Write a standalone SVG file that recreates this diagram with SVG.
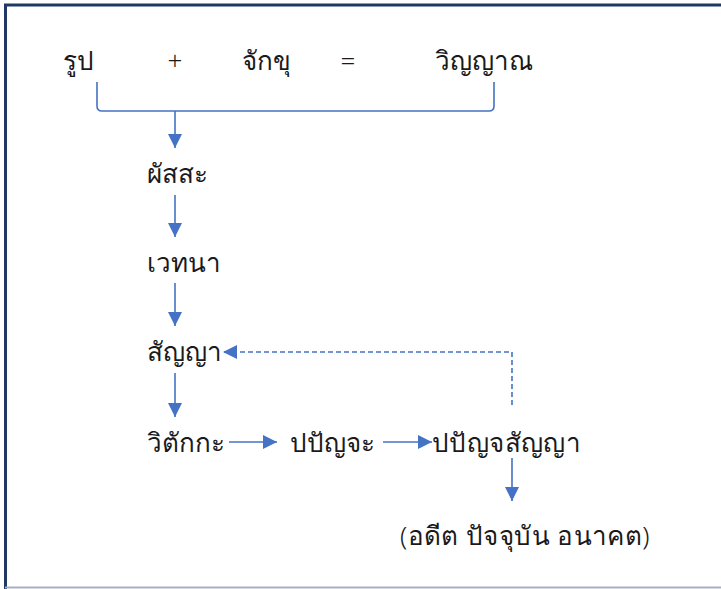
<svg xmlns="http://www.w3.org/2000/svg" width="721" height="589" viewBox="0 0 721 589">
<defs>
<style>
text{font-family:"Noto Sans","DejaVu Sans","Liberation Sans",sans-serif;font-size:26px;font-weight:300;fill:#1a1a1a}
.c{stroke:#4472C4;stroke-width:1.6;fill:none}
.d{stroke:#4472C4;stroke-width:1.6;fill:none;stroke-dasharray:5 3}
</style>
<marker id="ah2" viewBox="0 0 10 10" refX="10" refY="5" markerWidth="14" markerHeight="14" markerUnits="userSpaceOnUse" orient="auto">
<path d="M0,0 L10,5 L0,10 z" fill="#4472C4"/>
</marker>
</defs>
<rect width="721" height="589" fill="#fff"/>
<path d="M5.5,589 V5 H721" stroke="#1F3864" stroke-width="3" fill="none"/>
<line x1="5" y1="587.5" x2="721" y2="587.5" stroke="#A6B0C8" stroke-width="2"/>
<g id="n-rup"><text x="63" y="70">รูป</text></g>
<g id="n-plus"><text x="175" y="70" text-anchor="middle">+</text></g>
<g id="n-chakkhu"><text x="242" y="70">จักขุ</text></g>
<g id="n-eq"><text x="348" y="70" text-anchor="middle">=</text></g>
<g id="n-vinyana"><text x="435" y="70">วิญญาณ</text></g>
<g id="n-phassa"><text x="147" y="183">ผัสสะ</text></g>
<g id="n-vedana"><text x="147" y="272">เวทนา</text></g>
<g id="n-sanya"><text x="147" y="361">สัญญา</text></g>
<g id="n-vitakka"><text x="147" y="452">วิตักกะ</text></g>
<g id="n-papanca"><text x="290" y="452">ปปัญจะ</text></g>
<g id="n-papancasanya"><text x="432" y="452" letter-spacing="0.4">ปปัญจสัญญา</text></g>
<g id="n-time"><text x="400" y="545" letter-spacing="0.4">(อดีต ปัจจุบัน อนาคต)</text></g>
<g id="connectors">
<path class="c" d="M97,82 V106 Q97,111 102,111 H489 Q494,111 494,106 V82"/>
<line class="c" x1="175" y1="111" x2="175" y2="148" marker-end="url(#ah2)"/>
<line class="c" x1="175" y1="195" x2="175" y2="237" marker-end="url(#ah2)"/>
<line class="c" x1="175" y1="283" x2="175" y2="326" marker-end="url(#ah2)"/>
<line class="c" x1="175" y1="373" x2="175" y2="417" marker-end="url(#ah2)"/>
<line class="c" x1="229" y1="442" x2="277" y2="442" marker-end="url(#ah2)"/>
<line class="c" x1="383" y1="442" x2="432" y2="442" marker-end="url(#ah2)"/>
<line class="c" x1="512" y1="458" x2="512" y2="501" marker-end="url(#ah2)"/>
<polyline class="d" points="512,405 512,352 223,352" marker-end="url(#ah2)"/>
</g>
</svg>
